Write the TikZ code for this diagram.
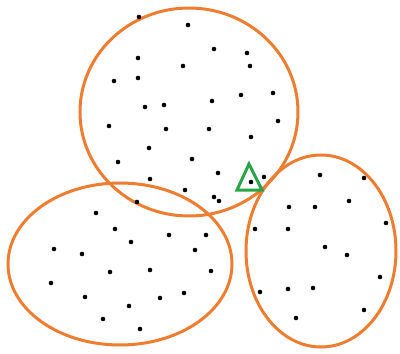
\documentclass[tikz,border=0pt]{standalone}
\definecolor{orng}{RGB}{237,125,49}
\definecolor{grn}{RGB}{40,165,72}
\begin{document}
\begin{tikzpicture}[x=1pt,y=-1pt,
  cluster/.style={draw=orng,line width=3pt},
  pt/.style={fill=black,circle,inner sep=0pt,minimum size=4.6pt}]
\useasboundingbox (0,0) rectangle (400,354);
\fill[white] (0,0) rectangle (400,354);
\draw[cluster] (189,112) ellipse [x radius=109, y radius=104];
\draw[cluster] (120,264) ellipse [x radius=112, y radius=81];
\draw[cluster] (321,251) ellipse [x radius=75, y radius=96];
\foreach \i/\p in {1/{139,17},2/{188,25},3/{138,58},4/{183,66},5/{114,81},6/{138,78},7/{145,107},8/{164,105},9/{109,126},10/{166,129},11/{149,148},12/{192,159},13/{118,162},14/{150,179},
15/{214,49},16/{247,53},17/{250,66},18/{241,95},19/{273,93},20/{212,101},21/{278,121},22/{209,129},23/{251,137},24/{218,173},25/{264,177},
26/{185,190},27/{137,202},28/{96,213},29/{115,229},30/{131,242},31/{169,235},32/{54,249},33/{82,254},34/{195,250},35/{110,272},36/{150,270},37/{51,283},38/{85,297},39/{129,306},40/{160,298},41/{184,293},42/{103,319},43/{140,329},
44/{251,182},45/{214,197},46/{219,201},47/{206,235},48/{211,271},
49/{320,175},50/{364,178},51/{289,207},52/{315,207},53/{349,201},54/{255,229},55/{288,229},56/{386,223},57/{325,247},58/{347,255},59/{380,277},60/{260,292},61/{288,289},62/{313,288},63/{296,318},64/{364,310}}
  \node[pt] (d\i) at (\p) {};
\draw[draw=grn,line width=3pt,line join=miter] (237,190) -- (262,190) -- (249,164) -- cycle;
\end{tikzpicture}
\end{document}
